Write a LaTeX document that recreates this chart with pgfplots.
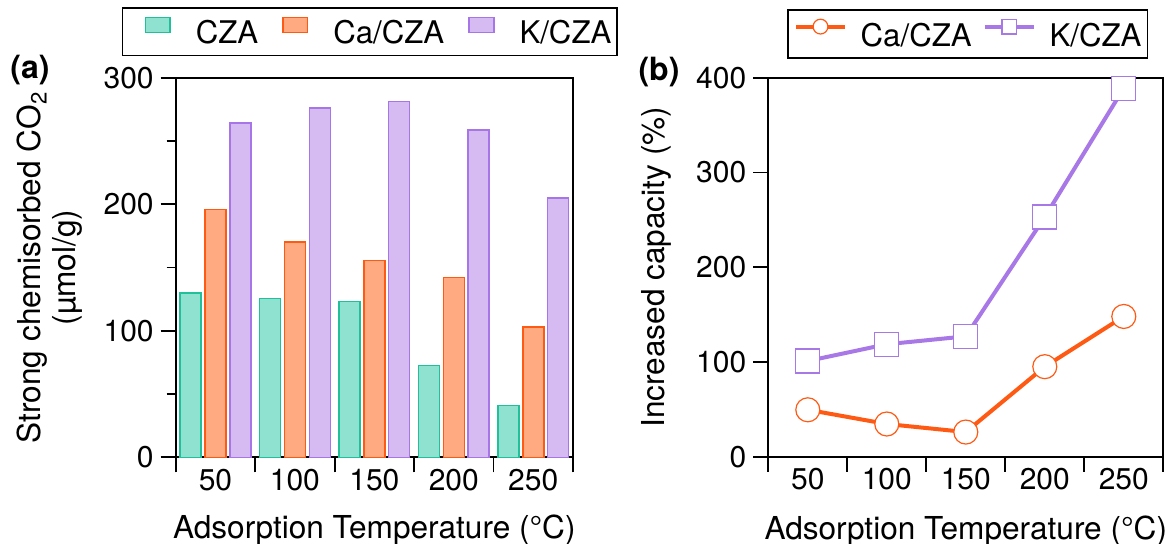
\documentclass[border=0pt]{standalone}
\usepackage{fontspec}
\setmainfont{TeX Gyre Heros}
\usepackage{pgfplots}
\pgfplotsset{compat=1.18}
\definecolor{czaF}{HTML}{8FE1D0}
\definecolor{czaE}{HTML}{20C09A}
\definecolor{caF}{HTML}{FFAA80}
\definecolor{caE}{HTML}{FF5A14}
\definecolor{kF}{HTML}{D6BAF2}
\definecolor{kE}{HTML}{A875E8}
\definecolor{caL}{HTML}{FF5A14}
\definecolor{kL}{HTML}{A878E6}
\pgfplotsset{
  common/.style={
    scale only axis,
    xmin=-0.5, xmax=4.5,
    xtick={-0.5,0.5,1.5,2.5,3.5,4.5},
    x tick label as interval,
    xticklabels={50,100,150,200,250},
    tick align=outside, xtick pos=bottom, ytick pos=left,
    major tick length=7.5pt, minor tick length=4.5pt,
    axis line style={line width=0.9pt},
    every tick/.style={black, line width=0.9pt},
    tick label style={font=\fontsize{15}{17}\selectfont},
    xticklabel style={yshift=5.3pt},
    /pgf/number format/assume math mode=true,
    label style={font=\fontsize{15.8}{17.5}\selectfont},
    legend style={draw=black, line width=0.9pt, inner xsep=3pt, inner ysep=4.5pt,
      font=\fontsize{15.6}{17}\selectfont, anchor=center,
      nodes={inner sep=0pt}},
  },
  barleg/.style={legend image code/.code={%
      \path (-8pt,0pt) (12.35pt,0pt);
      \draw[##1,line width=0.75pt] (0pt,0.3pt) rectangle (12.35pt,7.8pt);}},
  lineleg/.style={legend image code/.code={%
      \draw[##1,mark=none] (0pt,4.7pt) -- (24.5pt,4.7pt);
      \draw[##1,mark size=3.7pt] plot coordinates {(12.25pt,4.7pt)};}},
}
\begin{document}
\begin{tikzpicture}
\path[use as bounding box] (0,0) rectangle (583.5pt,272pt);
\begin{axis}[common,
  width=198.65pt, height=189.8pt,
  at={(87.85pt,43.35pt)}, anchor=south west,
  ymin=0, ymax=300,
  ytick={0,100,200,300}, minor ytick={50,150,250},
  ybar, bar width=10.5pt,
  ylabel={Strong chemisorbed CO\textsubscript{2}\\(µmol/g)},
  ylabel style={align=center, at={(axis description cs:-0.3164,0.5)}, anchor=center},
  xlabel={Adsorption Temperature (°C)},
  xlabel style={at={(axis description cs:0.5,-0.2152)}, anchor=base},
  legend columns=3,
  legend style={at={(axis description cs:0.489,1.1212)},
    /tikz/every odd column/.append style={column sep=12.5pt},
    /tikz/every even column/.append style={column sep=4pt}},
  barleg,
]
\addplot[fill=czaF, draw=czaE, line width=0.75pt, bar shift=-12.45pt] coordinates {(0,130) (1,125.5) (2,123) (3,72.5) (4,41)};
\addplot[fill=caF, draw=caE, line width=0.75pt, bar shift=0pt] coordinates {(0,196) (1,170) (2,155.5) (3,142) (4,103)};
\addplot[fill=kF, draw=kE, line width=0.75pt, bar shift=12.45pt] coordinates {(0,264) (1,276) (2,281) (3,258.5) (4,205)};
\legend{CZA,Ca/CZA,K/CZA}
\end{axis}
\begin{axis}[common,
  width=197.5pt, height=189.5pt,
  at={(384.15pt,43.65pt)}, anchor=south west,
  ymin=0, ymax=400,
  ytick={0,100,200,300,400},
  ylabel={Increased capacity (\%)},
  ylabel style={at={(axis description cs:-0.282,0.5)}, anchor=center},
  xlabel={Adsorption Temperature (°C)},
  xlabel style={at={(axis description cs:0.5,-0.2172)}, anchor=base},
  legend columns=2,
  legend style={at={(axis description cs:0.505,1.1148)},
    /tikz/every odd column/.append style={column sep=6.85pt},
    /tikz/every even column/.append style={column sep=5.65pt}},
  lineleg,
]
\addplot[caL, line width=2pt, mark=*, mark size=6pt,
  mark options={fill=white, draw=caL, line width=0.6pt}] coordinates {(0,49.5) (1,34.5) (2,26) (3,95) (4,148)};
\addplot[kL, line width=2pt, mark=square*, mark size=6pt,
  mark options={fill=white, draw=kL, line width=0.6pt}] coordinates {(0,101) (1,118.7) (2,127) (3,253) (4,389)};
\legend{Ca/CZA,K/CZA}
\end{axis}
\node[font=\bfseries\fontsize{16}{18}\selectfont] at (15pt,237pt) {(a)};
\node[font=\bfseries\fontsize{16}{18}\selectfont] at (329.5pt,236pt) {(b)};
\end{tikzpicture}
\end{document}
